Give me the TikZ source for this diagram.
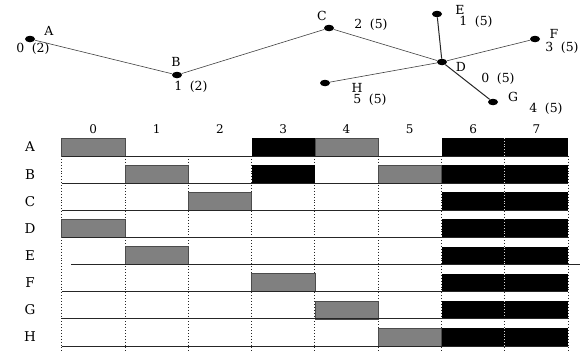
\documentclass[tikz,border=0pt]{standalone}
\usepackage{fontspec}
\setmainfont{DejaVu Serif}
\usetikzlibrary{shapes.geometric}
\newcommand{\val}[2]{#1\hspace{0.6em}(#2)}
\tikzset{
  dot/.style={ellipse, fill=black, inner sep=0pt, minimum width=10pt, minimum height=6.5pt},
  lbl/.style={font=\fontsize{12.5}{12.5}\selectfont, inner sep=0pt, text=black},
  rlbl/.style={font=\fontsize{13.5}{13.5}\selectfont, inner sep=0pt, text=black},
  clbl/.style={font=\fontsize{12}{12}\selectfont, inner sep=0pt, text=black},
  edge/.style={line width=0.6pt, draw=black!75},
  thickedge/.style={line width=1pt, draw=black!85},
  graybar/.style={fill=black!50, draw=black!70, line width=0.6pt},
  blackbar/.style={fill=black},
  rowline/.style={line width=0.7pt, draw=black!85},
  gridv/.style={dotted, line width=0.9pt, draw=black!85},
  gridw/.style={dotted, line width=0.8pt, draw=white!85!black}
}
\begin{document}
\begin{tikzpicture}[x=1pt,y=-1pt]
\useasboundingbox (0,0) rectangle (585,356);
% ---------- graph ----------
\node[dot] (A) at (30,39) {};
\node[dot] (B) at (177,75) {};
\node[dot] (C) at (329,28) {};
\node[dot] (E) at (437,14) {};
\node[dot] (F) at (535,39) {};
\node[dot] (D) at (442,62) {};
\node[dot] (H) at (325,83) {};
\node[dot] (G) at (493,102) {};
\draw[edge] (A) -- (B);
\draw[edge] (B) -- (C);
\draw[edge] (C) -- (D);
\draw[thickedge] (D) -- (E);
\draw[edge] (D) -- (F);
\draw[thickedge] (D) -- (G);
\draw[edge] (D) -- (H);
\node[lbl] (lA) at (49,31) {A};
\node[lbl] (vA) at (33,49) {\val{0}{2}};
\node[lbl] (lB) at (176,62) {B};
\node[lbl] (vB) at (191,87) {\val{1}{2}};
\node[lbl] (lC) at (322,16) {C};
\node[lbl] (vC) at (371,25) {\val{2}{5}};
\node[lbl] (lE) at (460,10) {E};
\node[lbl] (vE) at (476,22) {\val{1}{5}};
\node[lbl] (lF) at (554,34) {F};
\node[lbl] (vF) at (562,48) {\val{3}{5}};
\node[lbl] (lD) at (461,67) {D};
\node[lbl] (vD) at (498,79) {\val{0}{5}};
\node[lbl] (lH) at (357,88) {H};
\node[lbl] (vH) at (370,100) {\val{5}{5}};
\node[lbl] (lG) at (513,97) {G};
\node[lbl] (vG) at (546,109) {\val{4}{5}};
% ---------- grid ----------
\def\xz{61.7}\def\cw{63.3}\def\yz{156}\def\rh{27.14}\def\bh{18}
\foreach \j in {0,...,8}{
  \draw[gridv] ({\xz+\j*\cw},\yz) -- ({\xz+\j*\cw},353);
}
\foreach \j in {0,...,7}{
  \node[clbl] (c\j) at ({\xz+\j*\cw+31.6},129) {\j};
}
\foreach \r [count=\i from 0] in {A,B,C,D,E,F,G,H}{
  \node[rlbl] (r\r) at (30,{\yz+\i*\rh-9}) {\r};
}
\foreach \i/\j in {0/0,0/4,1/1,1/5,2/2,3/0,4/1,5/3,6/4,7/5}{
  \draw[graybar] ({\xz+\j*\cw},{\yz+\i*\rh-\bh}) rectangle ({\xz+(\j+1)*\cw},{\yz+\i*\rh});
}
\foreach \i in {0,1}{
  \fill[blackbar] ({\xz+3*\cw},{\yz+\i*\rh-\bh}) rectangle ({\xz+4*\cw},{\yz+\i*\rh});
}
\foreach \i in {0,...,7}{
  \fill[blackbar] ({\xz+6*\cw},{\yz+\i*\rh-\bh}) rectangle ({\xz+8*\cw},{\yz+\i*\rh});
  \draw[gridw] ({\xz+7*\cw},{\yz+\i*\rh-\bh}) -- ({\xz+7*\cw},{\yz+\i*\rh});
}
\foreach \i in {0,1,2,3,5,6,7}{
  \draw[rowline] (\xz,{\yz+\i*\rh}) -- ({\xz+8*\cw},{\yz+\i*\rh});
}
\draw[rowline] (71,{\yz+4*\rh}) -- (580,{\yz+4*\rh});
\end{tikzpicture}
\end{document}
